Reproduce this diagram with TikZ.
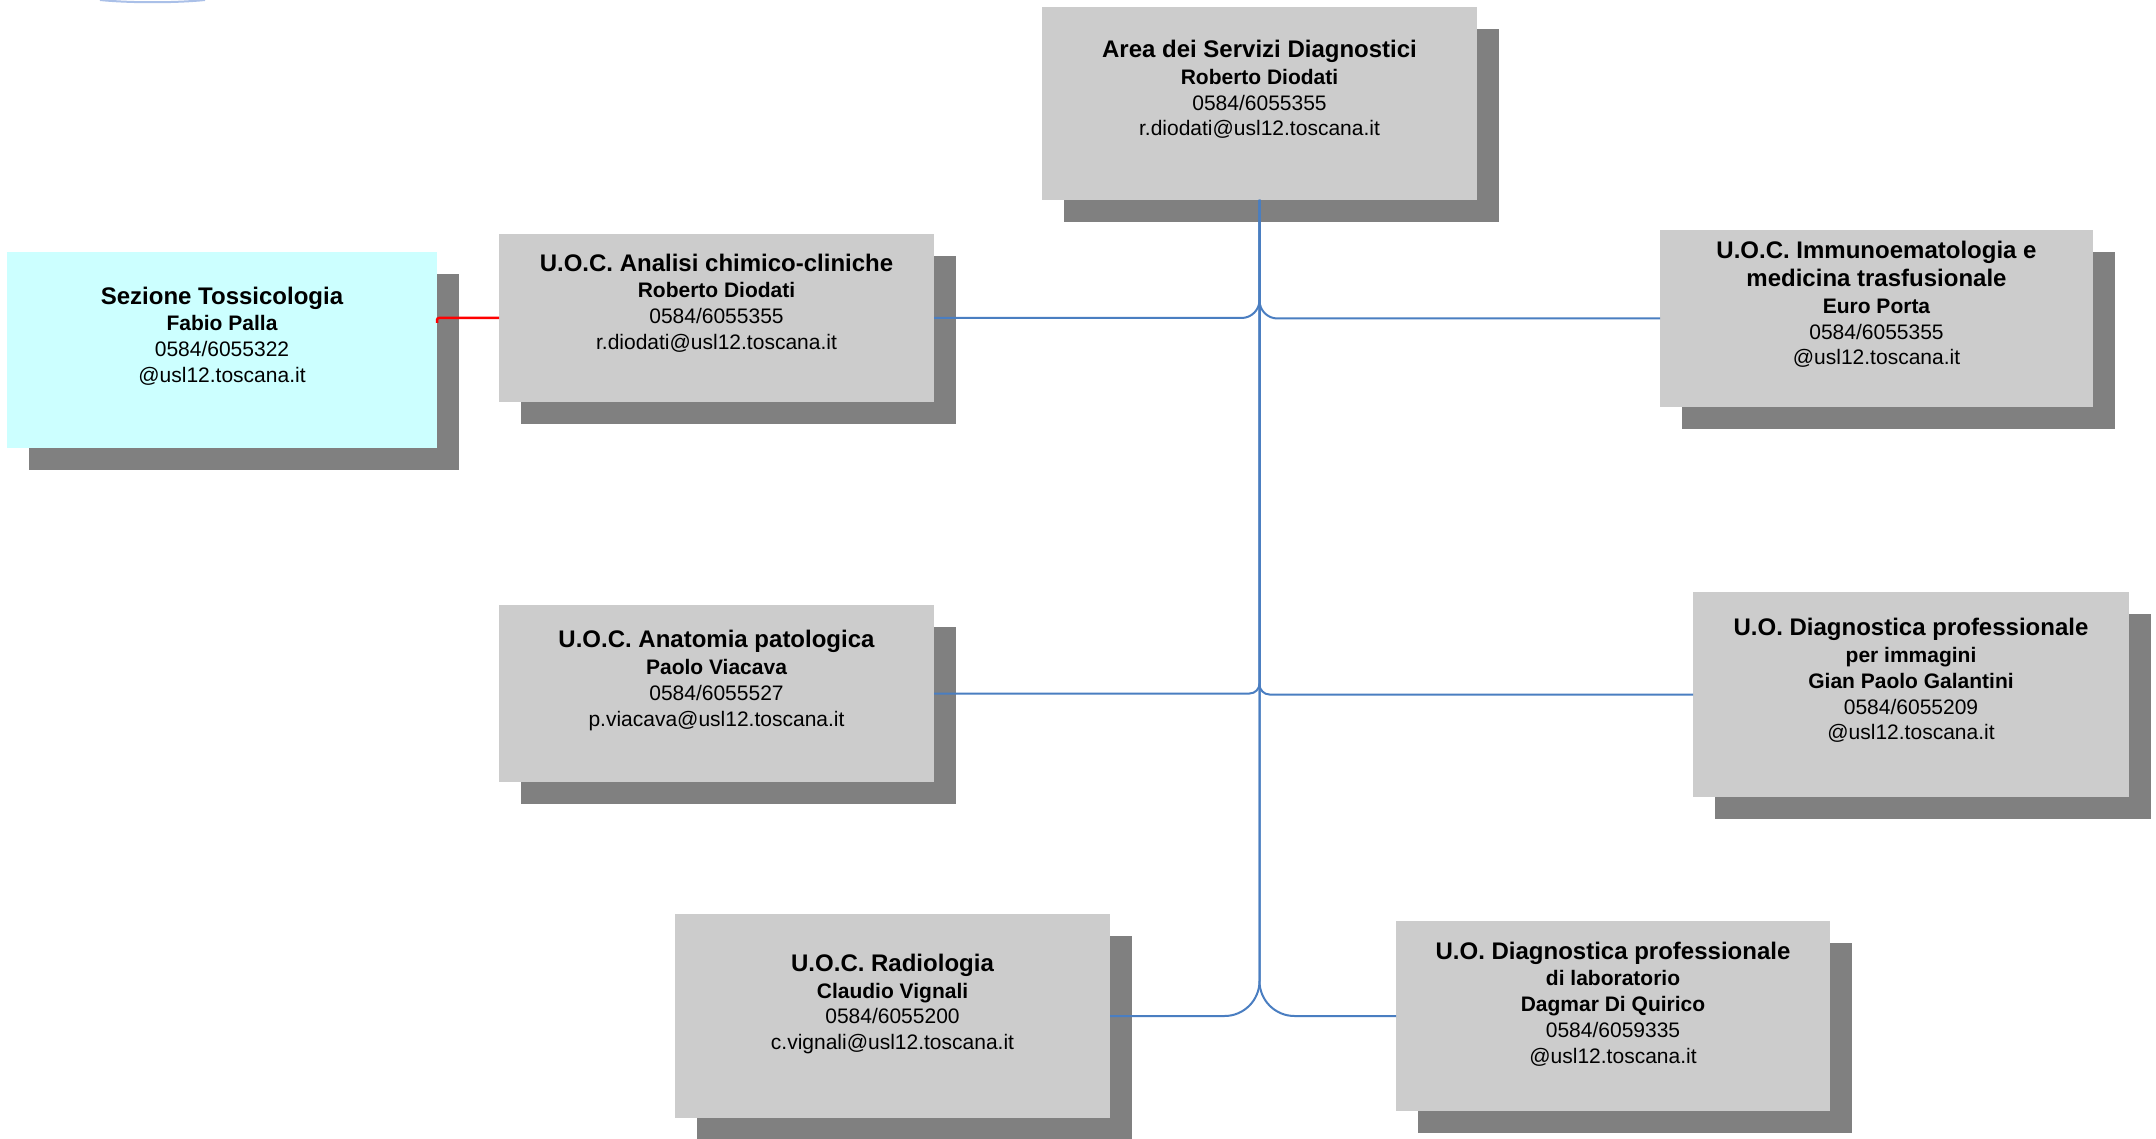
\documentclass[tikz,border=0pt]{standalone}
\usepackage{fontspec}
\setmainfont{Liberation Sans}
\usetikzlibrary{shadows,calc}
\definecolor{boxgray}{RGB}{204,204,204}
\definecolor{shadowgray}{RGB}{128,128,128}
\definecolor{cyanbox}{RGB}{204,255,255}
\definecolor{linkblue}{RGB}{74,126,193}
\definecolor{arcblue}{RGB}{170,192,232}
\newcommand{\ttlf}{\fontsize{24}{26}\selectfont\bfseries}
\newcommand{\nmf}{\fontsize{21}{26}\selectfont\bfseries}
\tikzset{
  orgbox/.style={rectangle, fill=boxgray, inner sep=0pt, outer sep=0pt,
    drop shadow={shadow xshift=22pt, shadow yshift=-22pt, fill=shadowgray, opacity=1}},
  cyanorg/.style={orgbox, fill=cyanbox},
  orgtext/.style={align=center, inner sep=0pt, text=black, font=\fontsize{21}{25.8}\selectfont},
  conn/.style={draw=linkblue, line width=2pt},
  redconn/.style={draw=red, line width=2.5pt},
}
\begin{document}
\begin{tikzpicture}[x=1pt, y=-1pt]
\useasboundingbox (0,0) rectangle (2156,1139);
\fill[white] (0,0) rectangle (2156,1139);
% faint arc at top-left
\draw[arcblue, line width=2pt] (100,0) .. controls (130,3) and (175,3) .. (205,0);

\node[orgbox, minimum width=435pt, minimum height=193pt] (top) at (1259.5,103.5) {};
\node[cyanorg, minimum width=430pt, minimum height=196pt] (sez) at (222,350) {};
\node[orgbox, minimum width=435pt, minimum height=168pt] (ana) at (716.5,318) {};
\node[orgbox, minimum width=433pt, minimum height=177pt] (imm) at (1876.5,318.5) {};
\node[orgbox, minimum width=435pt, minimum height=177pt] (anat) at (716.5,693.5) {};
\node[orgbox, minimum width=436pt, minimum height=205pt] (dimg) at (1911,694.5) {};
\node[orgbox, minimum width=435pt, minimum height=204pt] (rad) at (892.5,1016) {};
\node[orgbox, minimum width=434pt, minimum height=190pt] (lab) at (1613,1016) {};

\node[orgtext] (topT) at ($(top.center)+(0,-14)$)
  {{\ttlf Area dei Servizi Diagnostici}\\[1pt]{\nmf Roberto Diodati}\\0584/6055355\\r.diodati@usl12.toscana.it};
\node[orgtext] (sezT) at ($(sez.center)+(0,-14)$)
  {{\ttlf Sezione Tossicologia}\\[1pt]{\nmf Fabio Palla}\\0584/6055322\\@usl12.toscana.it};
\node[orgtext] (anaT) at ($(ana.center)+(0,-15)$)
  {{\ttlf U.O.C. Analisi chimico-cliniche}\\[1pt]{\nmf Roberto Diodati}\\0584/6055355\\r.diodati@usl12.toscana.it};
\node[orgtext] (immT) at ($(imm.center)+(0,-14)$)
  {{\ttlf U.O.C. Immunoematologia e}\\[2pt]{\ttlf medicina trasfusionale}\\[1pt]{\nmf Euro Porta}\\0584/6055355\\@usl12.toscana.it};
\node[orgtext] (anatT) at ($(anat.center)+(0,-13)$)
  {{\ttlf U.O.C. Anatomia patologica}\\[1pt]{\nmf Paolo Viacava}\\0584/6055527\\p.viacava@usl12.toscana.it};
\node[orgtext] (dimgT) at ($(dimg.center)+(0,-14)$)
  {{\ttlf U.O. Diagnostica professionale}\\[1pt]{\nmf per immagini}\\{\nmf Gian Paolo Galantini}\\0584/6055209\\@usl12.toscana.it};
\node[orgtext] (radT) at ($(rad.center)+(0,-12)$)
  {{\ttlf U.O.C. Radiologia}\\[1pt]{\nmf Claudio Vignali}\\0584/6055200\\c.vignali@usl12.toscana.it};
\node[orgtext] (labT) at ($(lab.center)+(0,-12)$)
  {{\ttlf U.O. Diagnostica professionale}\\[1pt]{\nmf di laboratorio}\\{\nmf Dagmar Di Quirico}\\0584/6059335\\@usl12.toscana.it};

% connectors
\draw[conn, rounded corners=18pt] (ana.east) -- (ana.east -| top.south) -- (top.south);
\draw[conn, rounded corners=18pt] (imm.west) -- (imm.west -| top.south) -- (top.south);
\draw[conn, rounded corners=10pt] (anat.east) -- (anat.east -| top.south) -- (top.south);
\draw[conn, rounded corners=10pt] (dimg.west) -- (dimg.west -| top.south) -- (top.south);
\draw[conn, rounded corners=35pt] (rad.east) -- (rad.east -| top.south) -- (top.south);
\draw[conn, rounded corners=35pt] (lab.west) -- (lab.west -| top.south) -- (top.south);
\draw[redconn, rounded corners=2pt] (ana.west) -- (ana.west -| sez.east) -- ++(0,5);
\end{tikzpicture}
\end{document}
